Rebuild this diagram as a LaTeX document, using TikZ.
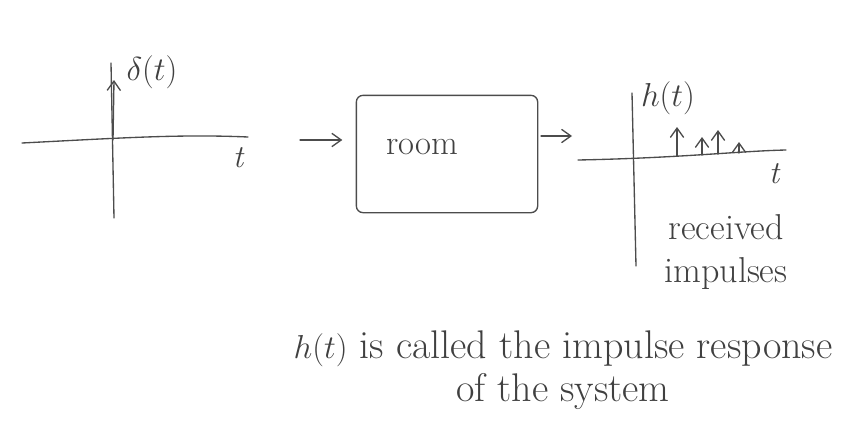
\documentclass[tikz,border=0pt]{standalone}
\usepackage{amsmath}
\usepackage{tikz}
\usetikzlibrary{arrows.meta}

\tikzset{
  sketch/.style = {line width=1pt, draw=black!70, line cap=round},
  barb/.style = {-{Straight Barb[length=7pt,width=10pt]}},
  handtext/.style = {text=black!75, inner sep=0pt},
}

\begin{document}
\begin{tikzpicture}[x=0.75pt, y=-0.75pt]
        \useasboundingbox (0,0) rectangle (845,432);
        % input: delta at t = 0
        \coordinate (inL) at (22,143);
        \coordinate (inR) at (248,137);
        \coordinate (inB) at (114,218);
        \coordinate (inT) at (111,63);
        \draw[sketch] (inL) .. controls (120,138) and (180,134) .. (inR);
        \draw[sketch] (inT) -- (inB);
        \coordinate (deltaB) at (113,140);
        \coordinate (deltaT) at (114,80);
        \draw[sketch, barb] (deltaB) -- (deltaT);
        \node[handtext, font=\fontsize{23}{26}\selectfont] (deltalabel) at (152,72) {$\delta(t)$};
        \node[handtext, font=\fontsize{24}{28}\selectfont\itshape] (inT-label) at (238,158) {t};

        % the system
        \node[sketch, draw, rounded corners=5pt, minimum width=136pt, minimum height=88pt] (room) at (447,154) {};
        \node[handtext, font=\fontsize{26}{30}\selectfont] (roomlabel) at (422,147) {room};
        \coordinate (arrowIn) at (300,140);
        \coordinate (arrowOut) at (572,136);
        \draw[sketch, barb, shorten >=10pt] (arrowIn) -- (room.west |- arrowIn);
        \draw[sketch, barb, shorten <=2pt] (room.east |- arrowOut) -- (arrowOut);

        % output: received impulses
        \coordinate (outL) at (578,160);
        \coordinate (outR) at (786,150);
        \coordinate (outT) at (632,93);
        \coordinate (outB) at (636,266);
        \draw[sketch] (outL) .. controls (680,158) and (740,151) .. (outR);
        \draw[sketch] (outT) -- (outB);
        \foreach \px/\py/\top in {677/156/127, 702/155/137, 718/154/130, 739/153/142}
          \draw[sketch, barb] (\px,\py) -- (\px,\top);
        \node[handtext, font=\fontsize{23}{26}\selectfont] (hlabel) at (668,98) {$h(t)$};
        \node[handtext, font=\fontsize{24}{28}\selectfont\itshape] (outT-label) at (774,174) {t};
        \node[handtext, font=\fontsize{27}{32}\selectfont, align=center] (received) at (726,252) {received\\impulses};

        % caption
        \node[handtext, font=\fontsize{30}{32}\selectfont, align=center] (caption) at (563,370) {$h(t)$ is called the impulse response\\of the system};
\end{tikzpicture}
\end{document}
